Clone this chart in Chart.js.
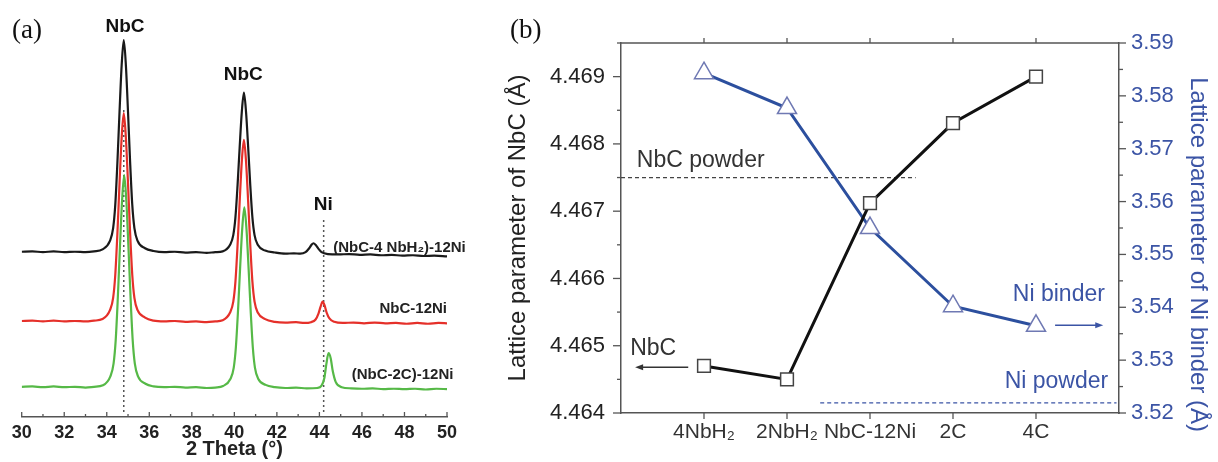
<!DOCTYPE html>
<html>
<head>
<meta charset="utf-8">
<script src="https://cdn.jsdelivr.net/npm/chart.js@4.4.0/dist/chart.umd.min.js"></script>
<style>
  html, body { margin: 0; padding: 0; background: #fff; }
  #wrap { position: relative; width: 1218px; height: 462px; overflow: hidden; }
  canvas { position: absolute; top: 0; }
  #xrd { left: 0; }
  #lat { left: 490px; }
</style>
</head>
<body>
<div id="wrap">
  <canvas id="xrd" width="480" height="462"></canvas>
  <canvas id="lat" width="728" height="462"></canvas>
</div>
<script>
// ---------- (a) XRD patterns: [2theta, intensity a.u. (stacked)] ----------
const thetaTicks = [30, 32, 34, 36, 38, 40, 42, 44, 46, 48, 50];
const thetaMinor = [31, 33, 35, 37, 39, 41, 43, 45, 47, 49];

const xrdNbH2 = [[30,42.7],[30.5,42.8],[31,42.6],[31.5,42.8],[32,42.6],[32.5,42.7],[33,42.6],[33.4,42.8],[33.8,43.3],[34.15,45.5],[34.3,48.8],[34.4,54.8],[34.5,65.7],[34.6,78.8],[34.7,90.8],[34.8,97.4],[34.9,90.8],[35.0,78.8],[35.1,65.7],[35.2,54.8],[35.3,48.8],[35.45,45.5],[35.8,43.6],[36.2,42.9],[36.7,42.6],[37.2,42.7],[37.7,42.5],[38.2,42.6],[38.7,42.4],[39.1,42.6],[39.45,42.8],[39.8,44.5],[39.95,47.0],[40.05,51.5],[40.15,59.8],[40.25,69.7],[40.35,78.8],[40.45,83.8],[40.55,78.8],[40.65,69.7],[40.75,59.8],[40.85,51.5],[40.95,47.0],[41.1,44.5],[41.45,43.0],[41.9,42.5],[42.4,42.2],[42.8,42.3],[43.1,42.2],[43.35,42.6],[43.52,43.6],[43.63,44.5],[43.72,44.9],[43.82,44.5],[43.95,43.5],[44.1,42.6],[44.4,42.1],[44.9,42.0],[45.4,42.1],[45.9,41.9],[46.4,42.0],[46.9,41.8],[47.4,41.9],[47.9,41.7],[48.4,41.8],[48.9,41.6],[49.4,41.7],[50,41.5]];

const xrdNbC12Ni = [[30,24.8],[30.5,24.9],[31,24.7],[31.5,24.9],[32,24.7],[32.5,24.8],[33,24.7],[33.4,24.9],[33.8,25.3],[34.15,27.6],[34.3,30.8],[34.4,36.7],[34.5,47.4],[34.6,60.3],[34.7,72.1],[34.8,78.5],[34.9,72.1],[35.0,60.3],[35.1,47.4],[35.2,36.7],[35.3,30.8],[35.45,27.6],[35.8,25.7],[36.2,24.9],[36.7,24.7],[37.2,24.8],[37.7,24.6],[38.2,24.7],[38.7,24.5],[39.1,24.7],[39.45,25.0],[39.8,27.0],[39.95,29.8],[40.05,34.9],[40.15,44.3],[40.25,55.6],[40.35,66.0],[40.45,71.6],[40.55,66.0],[40.65,55.6],[40.75,44.3],[40.85,34.9],[40.95,29.8],[41.1,27.0],[41.45,25.3],[41.9,24.6],[42.4,24.4],[42.9,24.5],[43.3,24.3],[43.6,24.5],[43.82,25.2],[43.96,26.8],[44.06,28.6],[44.15,29.8],[44.24,28.9],[44.34,27.0],[44.47,25.5],[44.7,24.6],[45.1,24.3],[45.6,24.4],[46.1,24.2],[46.6,24.4],[47.1,24.2],[47.6,24.3],[48.1,24.1],[48.6,24.3],[49.1,24.1],[49.6,24.3],[50,24.2]];

const xrd2C = [[30,7.8],[30.5,7.9],[31,7.7],[31.5,7.9],[32,7.7],[32.5,7.8],[33,7.6],[33.4,7.8],[33.82,8.2],[34.17,10.5],[34.32,13.8],[34.42,19.8],[34.52,30.8],[34.62,43.9],[34.72,55.9],[34.82,62.5],[34.92,55.9],[35.02,43.9],[35.12,30.8],[35.22,19.8],[35.32,13.8],[35.47,10.5],[35.82,8.6],[36.2,7.9],[36.7,7.7],[37.2,7.8],[37.7,7.6],[38.2,7.7],[38.7,7.5],[39.1,7.6],[39.47,8.0],[39.82,9.9],[39.97,12.7],[40.07,17.9],[40.17,27.2],[40.27,38.4],[40.37,48.6],[40.47,54.2],[40.57,48.6],[40.67,38.4],[40.77,27.2],[40.87,17.9],[40.97,12.7],[41.12,9.9],[41.47,8.3],[41.9,7.7],[42.4,7.5],[42.9,7.6],[43.4,7.4],[43.9,7.5],[44.1,8.1],[44.23,10.0],[44.33,13.8],[44.43,16.5],[44.53,15.2],[44.63,11.8],[44.77,9.0],[45.05,7.7],[45.5,7.4],[46,7.3],[46.5,7.4],[47,7.2],[47.5,7.3],[48,7.2],[48.5,7.3],[49,7.1],[49.5,7.3],[50,7.2]];

// reference positions (dotted lines): NbC and Ni peaks
const nbcLine = [[34.8, 1.3], [34.8, 80]];
const niLine = [[44.2, 1.3], [44.2, 51]];

// ---------- (b) lattice parameters ----------
const samples = ['4NbH\u2082', '2NbH\u2082', 'NbC-12Ni', '2C', '4C'];
const latNbC = [4.4647, 4.4645, 4.46712, 4.46831, 4.4690];
const latNi = [3.5843, 3.5777, 3.5550, 3.5402, 3.5365];
const nbcPowder = 4.4675;
const niPowder = 3.5219;
const nbcTicks = [4.464, 4.465, 4.466, 4.467, 4.468, 4.469];
const nbcMinor = [4.4645, 4.4655, 4.4665, 4.4675, 4.4685, 4.4695];
const niTicks = [3.52, 3.53, 3.54, 3.55, 3.56, 3.57, 3.58, 3.59];
const niMinor = [3.525, 3.535, 3.545, 3.555, 3.565, 3.575, 3.585];

const FONT = "'Liberation Sans', Arial, sans-serif";
const BLUE = '#3b54a5';
Chart.defaults.font.family = FONT;
Chart.defaults.color = '#222';

const pts = arr => arr.map(([x, y]) => ({ x, y }));

// small outward/inward tick marks and frame lines
const tickPlugin = {
  id: 'tickMarks',
  afterDraw(chart, args, opts) {
    const ctx = chart.ctx, ca = chart.chartArea;
    ctx.save();
    ctx.strokeStyle = opts.color || '#555';
    ctx.lineWidth = 1.3;
    if (opts.topFrame) {
      ctx.beginPath();
      ctx.moveTo(ca.left, ca.top);
      ctx.lineTo(ca.right, ca.top);
      ctx.stroke();
    }
    (opts.marks || []).forEach(t => {
      const s = chart.scales[t.scale];
      t.values.forEach(v => {
        const p = s.getPixelForValue(v);
        ctx.beginPath();
        if (s.isHorizontal()) {
          const y0 = t.edge === 'top' ? ca.top : ca.bottom;
          ctx.moveTo(p, y0);
          ctx.lineTo(p, y0 + t.len);
        } else {
          const x0 = s.position === 'left' ? ca.left : ca.right;
          ctx.moveTo(x0, p);
          ctx.lineTo(x0 + t.len, p);
        }
        ctx.stroke();
      });
    });
    ctx.restore();
  }
};

// text labels and arrows placed in data units
const notesPlugin = {
  id: 'notes',
  afterDraw(chart, args, opts) {
    const ctx = chart.ctx;
    ctx.save();
    (opts.texts || []).forEach(n => {
      const px = n.px != null ? n.px : chart.scales.x.getPixelForValue(n.x);
      const py = n.py != null ? n.py : chart.scales[n.ys || 'y'].getPixelForValue(n.y);
      ctx.font = n.font;
      ctx.fillStyle = n.color || '#222';
      ctx.textAlign = n.align || 'center';
      ctx.textBaseline = 'middle';
      ctx.fillText(n.text, px, py);
    });
    (opts.arrows || []).forEach(a => {
      const xs = chart.scales.x, ys = chart.scales[a.ys];
      const x1 = xs.getPixelForValue(a.x1), x2 = xs.getPixelForValue(a.x2);
      const y = ys.getPixelForValue(a.y);
      const dir = Math.sign(x2 - x1);
      ctx.strokeStyle = a.color;
      ctx.fillStyle = a.color;
      ctx.lineWidth = 1.3;
      ctx.beginPath();
      ctx.moveTo(x1, y);
      ctx.lineTo(x2 - dir * 5, y);
      ctx.stroke();
      ctx.beginPath();
      ctx.moveTo(x2, y);
      ctx.lineTo(x2 - dir * 8, y - 3);
      ctx.lineTo(x2 - dir * 8, y + 3);
      ctx.closePath();
      ctx.fill();
    });
    ctx.restore();
  }
};

// ---------- chart (a) ----------
const curve = (data, color) => ({
  data: pts(data), borderColor: color, borderWidth: 2.2,
  pointRadius: 0, cubicInterpolationMode: 'monotone', fill: false
});
const dotted = data => ({
  data: pts(data), borderColor: '#555', borderWidth: 1.5, borderDash: [2, 3],
  pointRadius: 0, fill: false
});

new Chart(document.getElementById('xrd'), {
  type: 'line',
  data: {
    datasets: [
      curve(xrdNbH2, '#1a1a1a'),
      curve(xrdNbC12Ni, '#e5302a'),
      curve(xrd2C, '#56b947'),
      dotted(nbcLine),
      dotted(niLine)
    ]
  },
  options: {
    responsive: false,
    animation: false,
    layout: { padding: { left: 21.7, right: 33, top: 30, bottom: 0 } },
    plugins: {
      legend: { display: false },
      tooltip: { enabled: false },
      tickMarks: {
        color: '#555',
        marks: [
          { scale: 'x', values: thetaTicks, len: -5 },
          { scale: 'x', values: thetaMinor, len: -3 }
        ]
      },
      notes: {
        texts: [
          { text: '(a)', px: 12, py: 31, align: 'left', font: "27px 'Liberation Serif', serif", color: '#111' },
          { text: 'NbC', x: 34.86, y: 100.8, font: 'bold 19px ' + FONT, color: '#111' },
          { text: 'NbC', x: 40.42, y: 88.4, font: 'bold 19px ' + FONT, color: '#111' },
          { text: 'Ni', x: 44.18, y: 54.8, font: 'bold 19px ' + FONT, color: '#111' },
          { text: '(NbC-4 NbH\u2082)-12Ni', x: 44.65, y: 43.7, align: 'left', font: 'bold 15px ' + FONT, color: '#222' },
          { text: 'NbC-12Ni', x: 50, y: 27.9, align: 'right', font: 'bold 15px ' + FONT, color: '#222' },
          { text: '(NbC-2C)-12Ni', x: 50.3, y: 10.9, align: 'right', font: 'bold 15px ' + FONT, color: '#222' }
        ]
      }
    },
    scales: {
      x: {
        type: 'linear', min: 30, max: 50,
        afterBuildTicks: s => { s.ticks = thetaTicks.map(v => ({ value: v })); },
        afterFit: s => { s.height = 45; },
        grid: { display: false, drawTicks: false },
        border: { display: true, color: '#555', width: 1.5 },
        ticks: { autoSkip: false, maxRotation: 0, padding: 5, color: '#222', font: { size: 18, weight: 'bold' } },
        title: { display: true, text: '2 Theta (\u00b0)', color: '#222', font: { size: 20, weight: 'bold' }, padding: { top: 0, bottom: 1 } }
      },
      y: { display: false, min: 0, max: 100 }
    }
  },
  plugins: [tickPlugin, notesPlugin]
});

// ---------- chart (b) ----------
new Chart(document.getElementById('lat'), {
  type: 'line',
  data: {
    datasets: [
      {
        data: latNbC.map((v, i) => ({ x: i + 1, y: v })), yAxisID: 'yL',
        borderColor: '#111', borderWidth: 3,
        pointStyle: 'rect', pointRadius: 9, pointBackgroundColor: '#fff',
        pointBorderColor: '#444', pointBorderWidth: 1.5
      },
      {
        data: latNi.map((v, i) => ({ x: i + 1, y: v })), yAxisID: 'yR',
        borderColor: '#2c4f9e', borderWidth: 3,
        pointStyle: 'triangle', pointRadius: 11, pointBackgroundColor: '#fff',
        pointBorderColor: '#6f79b3', pointBorderWidth: 1.5
      },
      {
        data: [{ x: 0, y: nbcPowder }, { x: 3.55, y: nbcPowder }], yAxisID: 'yL',
        borderColor: '#444', borderWidth: 1.3, borderDash: [4, 3], pointRadius: 0
      },
      {
        data: [{ x: 2.4, y: niPowder }, { x: 5.97, y: niPowder }], yAxisID: 'yR',
        borderColor: BLUE, borderWidth: 1.3, borderDash: [4, 3], pointRadius: 0
      }
    ]
  },
  options: {
    responsive: false,
    animation: false,
    layout: { padding: { left: 0, right: 0, top: 43, bottom: 0 } },
    plugins: {
      legend: { display: false },
      tooltip: { enabled: false },
      tickMarks: {
        color: '#555',
        topFrame: true,
        marks: [
          { scale: 'yL', values: nbcTicks, len: -8 },
          { scale: 'yL', values: nbcMinor, len: -4 },
          { scale: 'yR', values: niTicks, len: 7 },
          { scale: 'yR', values: niMinor, len: 4 },
          { scale: 'x', values: [1, 2, 3, 4, 5], len: 6 },
          { scale: 'x', values: [1, 2, 3, 4, 5], len: -5, edge: 'top' }
        ]
      },
      notes: {
        texts: [
          { text: '(b)', px: 20, py: 31, align: 'left', font: "27px 'Liberation Serif', serif", color: '#111' },
          { text: 'NbC powder', x: 0.19, y: 4.46775, ys: 'yL', align: 'left', font: '23px ' + FONT, color: '#333' },
          { text: 'NbC', x: 0.11, y: 4.46496, ys: 'yL', align: 'left', font: '23px ' + FONT, color: '#333' },
          { text: 'Ni binder', x: 5.83, y: 3.5423, ys: 'yR', align: 'right', font: '23px ' + FONT, color: BLUE },
          { text: 'Ni powder', x: 5.87, y: 3.526, ys: 'yR', align: 'right', font: '23px ' + FONT, color: BLUE }
        ],
        arrows: [
          { x1: 0.81, x2: 0.17, y: 4.46468, ys: 'yL', color: '#333' },
          { x1: 5.23, x2: 5.81, y: 3.5366, ys: 'yR', color: BLUE }
        ]
      }
    },
    scales: {
      x: {
        type: 'linear', min: 0, max: 6,
        afterBuildTicks: s => { s.ticks = samples.map((c, i) => ({ value: i + 1 })); },
        afterFit: s => { s.height = 49; },
        grid: { display: false, drawTicks: false },
        border: { display: true, color: '#555', width: 1.5 },
        ticks: {
          autoSkip: false, maxRotation: 0, padding: 7, color: '#333', font: { size: 21 },
          callback: v => samples[v - 1] || ''
        }
      },
      yL: {
        position: 'left', min: 4.464, max: 4.4695,
        afterBuildTicks: s => { s.ticks = nbcTicks.map(v => ({ value: v })); },
        afterFit: s => { s.width = 131; },
        grid: { display: false, drawTicks: false },
        border: { display: true, color: '#555', width: 1.5 },
        ticks: { padding: 16, color: '#222', font: { size: 22 }, callback: v => v.toFixed(3) },
        title: { display: true, text: 'Lattice parameter of NbC (\u00c5)', color: '#222', font: { size: 24 }, padding: { top: 14 } }
      },
      yR: {
        position: 'right', min: 3.52, max: 3.59,
        afterBuildTicks: s => { s.ticks = niTicks.map(v => ({ value: v })); },
        afterFit: s => { s.width = 99; },
        grid: { display: false, drawTicks: false },
        border: { display: true, color: '#555', width: 1.5 },
        ticks: { padding: 12, color: BLUE, font: { size: 22 }, callback: v => v.toFixed(2) },
        title: { display: true, text: '        Lattice parameter of Ni binder (\u00c5)', color: BLUE, font: { size: 24 }, padding: { top: 6 } }
      }
    }
  },
  plugins: [tickPlugin, notesPlugin]
});
</script>
</body>
</html>
